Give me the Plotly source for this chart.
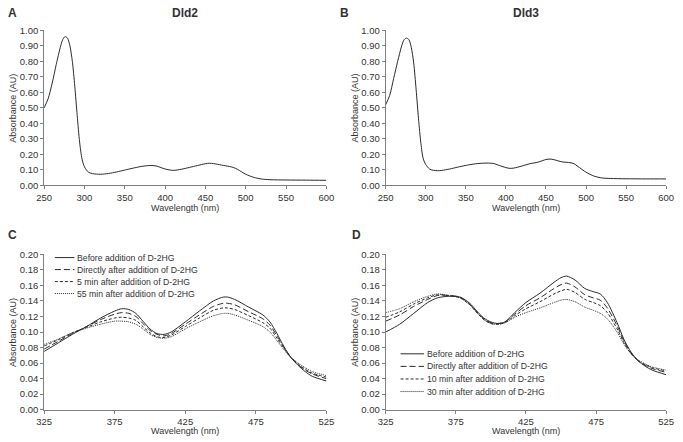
import plotly.graph_objects as go

# ---------------- data ----------------
wl_A = [250, 255, 260, 265, 270, 273, 276, 279, 282, 285, 288, 291, 294, 297, 300, 305, 310, 320,
        330, 340, 350, 360, 370, 380, 385, 390, 400, 410, 420, 430, 440, 450, 455, 460, 470, 480,
        485, 490, 500, 510, 520, 530, 550, 575, 600]
abs_dld2 = [0.50, 0.56, 0.66, 0.78, 0.89, 0.94, 0.96, 0.95, 0.90, 0.80, 0.64, 0.45, 0.28, 0.17, 0.12,
            0.085, 0.076, 0.072, 0.077, 0.087, 0.099, 0.111, 0.122, 0.128, 0.128, 0.124, 0.106, 0.097,
            0.104, 0.116, 0.128, 0.140, 0.143, 0.141, 0.131, 0.122, 0.115, 0.103, 0.072, 0.052, 0.041,
            0.037, 0.035, 0.034, 0.033]

wl_B = [250, 255, 260, 265, 270, 273, 276, 279, 282, 285, 288, 291, 294, 297, 300, 305, 310, 315,
        320, 330, 340, 350, 360, 370, 380, 385, 390, 400, 405, 410, 420, 430, 440, 450, 455, 460,
        470, 480, 485, 490, 500, 510, 520, 530, 550, 575, 600]
abs_dld3 = [0.52, 0.58, 0.69, 0.80, 0.90, 0.94, 0.95, 0.94, 0.89, 0.79, 0.62, 0.43, 0.27, 0.17, 0.135,
            0.105, 0.097, 0.095, 0.097, 0.106, 0.118, 0.129, 0.138, 0.143, 0.144, 0.141, 0.132, 0.115,
            0.110, 0.112, 0.125, 0.140, 0.150, 0.167, 0.170, 0.166, 0.152, 0.147, 0.140, 0.122, 0.085,
            0.060, 0.048, 0.045, 0.043, 0.042, 0.042]

wl_C = [325, 335, 345, 355, 365, 375, 380, 385, 390, 395, 400, 405, 410, 415, 425, 435, 445, 452,
        455, 460, 470, 480, 485, 490, 495, 500, 505, 510, 515, 525]
C_names = ["Before addition of D-2HG", "Directly after addition of D-2HG",
           "5 min after addition of D-2HG", "55 min after addition of D-2HG"]
C_before = [0.075, 0.086, 0.097, 0.107, 0.118, 0.127, 0.130, 0.129, 0.124, 0.114, 0.104, 0.098, 0.097,
            0.100, 0.113, 0.127, 0.140, 0.145, 0.145, 0.142, 0.132, 0.122, 0.113, 0.098, 0.081, 0.067,
            0.057, 0.049, 0.043, 0.037]
C_direct = [0.078, 0.088, 0.098, 0.107, 0.116, 0.123, 0.125, 0.124, 0.120, 0.111, 0.102, 0.097, 0.095,
            0.098, 0.110, 0.122, 0.133, 0.137, 0.137, 0.135, 0.126, 0.117, 0.109, 0.095, 0.080, 0.067,
            0.058, 0.051, 0.046, 0.040]
C_5min = [0.082, 0.090, 0.099, 0.106, 0.113, 0.118, 0.119, 0.118, 0.115, 0.107, 0.099, 0.094, 0.093,
          0.096, 0.107, 0.118, 0.128, 0.131, 0.131, 0.129, 0.121, 0.112, 0.105, 0.092, 0.079, 0.067,
          0.059, 0.052, 0.047, 0.042]
C_55min = [0.084, 0.091, 0.099, 0.105, 0.110, 0.114, 0.114, 0.113, 0.110, 0.104, 0.097, 0.093, 0.092,
           0.094, 0.104, 0.113, 0.121, 0.124, 0.124, 0.122, 0.115, 0.107, 0.100, 0.089, 0.077, 0.067,
           0.060, 0.054, 0.049, 0.044]

wl_D = [325, 335, 345, 355, 362, 370, 378, 385, 390, 395, 400, 405, 410, 417, 425, 435, 445, 450,
        454, 460, 467, 473, 478, 483, 490, 495, 500, 505, 510, 515, 525]
D_names = ["Before addition of D-2HG", "Directly after addition of D-2HG",
           "10 min after addition of D-2HG", "30 min after addition of D-2HG"]
D_before = [0.100, 0.110, 0.124, 0.138, 0.144, 0.146, 0.145, 0.137, 0.127, 0.118, 0.113, 0.111, 0.113,
            0.125, 0.138, 0.150, 0.164, 0.170, 0.172, 0.167, 0.156, 0.152, 0.149, 0.138, 0.112, 0.090,
            0.074, 0.063, 0.056, 0.051, 0.045]
D_direct = [0.114, 0.122, 0.133, 0.142, 0.147, 0.147, 0.145, 0.136, 0.126, 0.117, 0.112, 0.111, 0.113,
            0.123, 0.134, 0.144, 0.156, 0.161, 0.163, 0.158, 0.148, 0.144, 0.141, 0.131, 0.108, 0.088,
            0.073, 0.063, 0.057, 0.053, 0.048]
D_10min = [0.119, 0.126, 0.136, 0.144, 0.148, 0.147, 0.144, 0.135, 0.125, 0.116, 0.111, 0.110, 0.112,
           0.121, 0.130, 0.139, 0.149, 0.153, 0.155, 0.151, 0.142, 0.138, 0.134, 0.125, 0.104, 0.086,
           0.072, 0.063, 0.058, 0.054, 0.050]
D_30min = [0.125, 0.130, 0.139, 0.146, 0.149, 0.147, 0.144, 0.135, 0.125, 0.116, 0.111, 0.110, 0.112,
           0.119, 0.125, 0.131, 0.138, 0.141, 0.142, 0.139, 0.132, 0.128, 0.124, 0.117, 0.100, 0.084,
           0.072, 0.064, 0.059, 0.055, 0.051]

titles = ["Dld2", "Dld3"]
panel_letters = ["A", "B", "C", "D"]
x_title = "Wavelength (nm)"
y_title = "Absorbance (AU)"

# ---------------- style ----------------
W, H = 683, 442
FONT = "Liberation Sans, Arial, sans-serif"
LINE_COL = "#2b2b2b"
AX_COL = "#808080"
TXT_COL = "#333333"
dashes = ["solid", "6px,3px", "3px,2px", "1px,1px"]

def px_x(p):
    return p / W

def px_y(p):
    return 1 - p / H

# plot area pixel boxes (left, right, top, bottom)
boxes = {
    "A": (37, 326, 25, 184),
    "B": (386.7, 674, 25, 184),
    "C": (37, 326, 254.7, 414),
    "D": (386.7, 674, 254.7, 414),
}

fig = go.Figure()

def add_line(x, y, xa, ya, dash, name):
    fig.add_trace(go.Scatter(x=x, y=y, mode="lines", name=name, xaxis=xa, yaxis=ya,
                             line=dict(color=LINE_COL, width=1, dash=dash, shape="spline", smoothing=0.8),
                             showlegend=False, hoverinfo="x+y"))

add_line(wl_A, abs_dld2, "x", "y", "solid", "Dld2")
add_line(wl_B, abs_dld3, "x2", "y2", "solid", "Dld3")
for ser, d, n in zip([C_before, C_direct, C_5min, C_55min], dashes, C_names):
    add_line(wl_C, ser, "x3", "y3", d, n)
for ser, d, n in zip([D_before, D_direct, D_10min, D_30min], dashes, D_names):
    add_line(wl_D, ser, "x4", "y4", d, n)

axis_common = dict(showline=True, linecolor=AX_COL, linewidth=1, ticks="outside", ticklen=3,
                   tickcolor=AX_COL, tickwidth=1, showgrid=False, zeroline=False,
                   tickfont=dict(family=FONT, size=9.5, color=TXT_COL), fixedrange=True)

layout = dict(width=W, height=H, margin=dict(l=0, r=0, t=0, b=0),
              paper_bgcolor="white", plot_bgcolor="white", showlegend=False)

for i, key in enumerate(["A", "B", "C", "D"]):
    l, r, t, b = boxes[key]
    sfx = "" if i == 0 else str(i + 1)
    top_row = key in ("A", "B")
    xa = dict(axis_common, domain=[px_x(l), px_x(r)], anchor="y" + sfx)
    ya = dict(axis_common, domain=[px_y(b), px_y(t)], anchor="x" + sfx, tickformat=".2f")
    if top_row:
        xa.update(range=[250, 600], tick0=250, dtick=50)
        ya.update(range=[0, 1.0], tick0=0, dtick=0.1)
    else:
        xa.update(range=[325, 525], tick0=325, dtick=50)
        ya.update(range=[0, 0.2], tick0=0, dtick=0.02)
    layout["xaxis" + sfx] = xa
    layout["yaxis" + sfx] = ya

fig.update_layout(**layout)

ann = []
shapes = []
# panel titles
for txt, cx in zip(titles, [181, 530]):
    ann.append(dict(text="<b>%s</b>" % txt, x=px_x(cx), y=px_y(7), xref="paper", yref="paper",
                    showarrow=False, xanchor="center", yanchor="middle",
                    font=dict(family=FONT, size=12, color=TXT_COL)))
# panel letters
for txt, (cx, cy) in zip(panel_letters, [(5, 7), (345, 7), (5, 235), (357, 235)]):
    ann.append(dict(text="<b>%s</b>" % txt, x=px_x(cx), y=px_y(cy), xref="paper", yref="paper",
                    showarrow=False, xanchor="center", yanchor="middle",
                    font=dict(family=FONT, size=12, color=TXT_COL)))
# axis titles
for key, yx, xy in [("A", 5, 207), ("B", 355, 207), ("C", 5, 436), ("D", 355, 436)]:
    l, r, t, b = boxes[key]
    ann.append(dict(text=y_title, x=px_x(yx), y=px_y((t + b) / 2), xref="paper", yref="paper",
                    showarrow=False, textangle=-90, xanchor="center", yanchor="middle",
                    font=dict(family=FONT, size=9, color=TXT_COL)))
    ann.append(dict(text=x_title, x=px_x((l + r) / 2), y=px_y(xy), xref="paper", yref="paper",
                    showarrow=False, xanchor="center", yanchor="middle",
                    font=dict(family=FONT, size=9, color=TXT_COL)))

# manual compact legends
def legend(names, x0, x1, tx, y0, gap):
    for k, (n, d) in enumerate(zip(names, dashes)):
        yy = y0 + k * gap
        shapes.append(dict(type="line", xref="paper", yref="paper", x0=px_x(x0), x1=px_x(x1),
                           y0=px_y(yy), y1=px_y(yy), line=dict(color=LINE_COL, width=1, dash=d)))
        ann.append(dict(text=n, x=px_x(tx), y=px_y(yy), xref="paper", yref="paper", showarrow=False,
                        xanchor="left", yanchor="middle",
                        font=dict(family=FONT, size=8.7, color=TXT_COL)))

legend(C_names, 48, 68, 69, 258, 12.3)
legend(D_names, 402, 426, 427, 356.7, 12.9)

fig.update_layout(annotations=ann, shapes=shapes)
fig.write_html("out.html", config={"displayModeBar": False},
               post_script="document.body.style.margin='0';document.body.style.overflow='hidden';")
